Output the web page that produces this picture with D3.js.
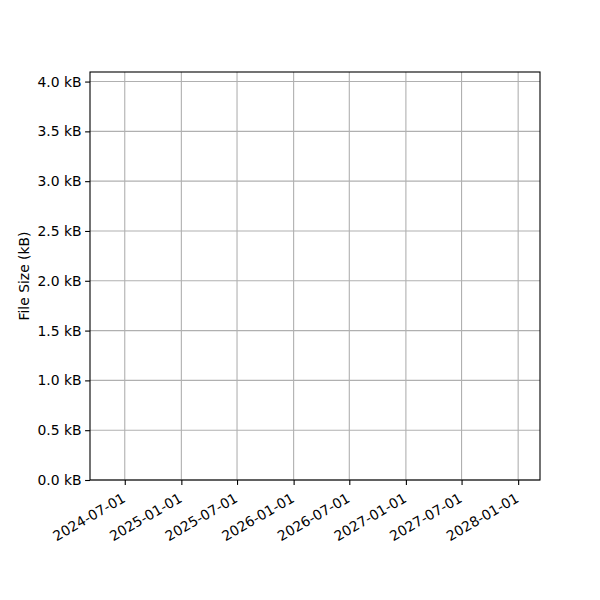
<!DOCTYPE html>
<html>
<head>
<meta charset="utf-8">
<script src="https://cdn.jsdelivr.net/npm/d3@7"></script>
<style>
  body { margin: 0; background: #fff; }
  text { font-family: "DejaVu Sans", sans-serif; fill: #000; }
</style>
</head>
<body>
<svg id="canvas"></svg>
<script>
// chart data (the plot has no series drawn, only axes)
let fileSizes = [];          // {date, bytes} - empty in the reference
let xDomain = ["2024-03-10", "2028-03-12"];
let yDomain = [0, 4096];     // bytes
let xTickDates = ["2024-07-01", "2025-01-01", "2025-07-01", "2026-01-01",
                  "2026-07-01", "2027-01-01", "2027-07-01", "2028-01-01"];
let yTicks = [0, 500, 1000, 1500, 2000, 2500, 3000, 3500, 4000];
let yLabel = "File Size (kB)";

let width = 600;
let height = 600;
let padLeft = 90, padRight = 540, padTop = 72, padBottom = 480;

const parseDate = d3.timeParse("%Y-%m-%d");
const fmtDate = d3.timeFormat("%Y-%m-%d");

let canvas = d3.select("#canvas").attr("width", width).attr("height", height);

let xScale = d3.scaleTime()
    .domain(xDomain.map(parseDate))
    .range([padLeft, padRight]);
let yScale = d3.scaleLinear()
    .domain(yDomain)
    .range([padBottom, padTop]);

// grid
let grid = canvas.append("g");
grid.selectAll(".vg").data(xTickDates.map(parseDate)).enter()
    .append("line")
    .attr("x1", d => xScale(d)).attr("x2", d => xScale(d))
    .attr("y1", padTop).attr("y2", padBottom)
    .attr("stroke", "#b0b0b0").attr("stroke-width", 1.1);
grid.selectAll(".hg").data(yTicks).enter()
    .append("line")
    .attr("x1", padLeft).attr("x2", padRight)
    .attr("y1", d => yScale(d)).attr("y2", d => yScale(d))
    .attr("stroke", "#b0b0b0").attr("stroke-width", 1.1);

// series (none in reference)
canvas.append("path")
    .datum(fileSizes.map(d => ({ date: parseDate(d.date), bytes: d.bytes })))
    .attr("fill", "none")
    .attr("stroke", "#1f77b4")
    .attr("d", d3.line().x(d => xScale(d.date)).y(d => yScale(d.bytes)));

// axes
let xAxis = d3.axisBottom(xScale)
    .tickValues(xTickDates.map(parseDate))
    .tickFormat(fmtDate)
    .tickSize(4.9).tickSizeOuter(0).tickPadding(3.5);
let yAxis = d3.axisLeft(yScale)
    .tickValues(yTicks)
    .tickFormat(d => (d / 1000).toFixed(1) + " kB")
    .tickSize(4.9).tickSizeOuter(0).tickPadding(3.5);

let gx = canvas.append("g")
    .attr("transform", `translate(0, ${padBottom})`)
    .call(xAxis);
gx.select(".domain").remove();
gx.selectAll(".tick line").attr("stroke", "#000").attr("stroke-width", 1.1);
gx.selectAll(".tick text")
    .attr("font-size", 13.9)
    .attr("text-anchor", "end")
    .attr("dy", null)
    .attr("y", 0)
    .attr("transform", "translate(-4, 12) rotate(-30)")
    .attr("dominant-baseline", "hanging");

let gy = canvas.append("g")
    .attr("transform", `translate(${padLeft}, 0)`)
    .call(yAxis);
gy.select(".domain").remove();
gy.selectAll(".tick line").attr("stroke", "#000").attr("stroke-width", 1.1);
gy.selectAll(".tick text").attr("font-size", 13.9);

// frame
canvas.append("rect")
    .attr("x", padLeft).attr("y", padTop)
    .attr("width", padRight - padLeft).attr("height", padBottom - padTop)
    .attr("fill", "none").attr("stroke", "#000").attr("stroke-width", 1.1);

canvas.append("text")
    .attr("transform", `translate(29, ${(padTop + padBottom) / 2}) rotate(-90)`)
    .attr("text-anchor", "middle")
    .attr("font-size", 13.9)
    .text(yLabel);
</script>
</body>
</html>
